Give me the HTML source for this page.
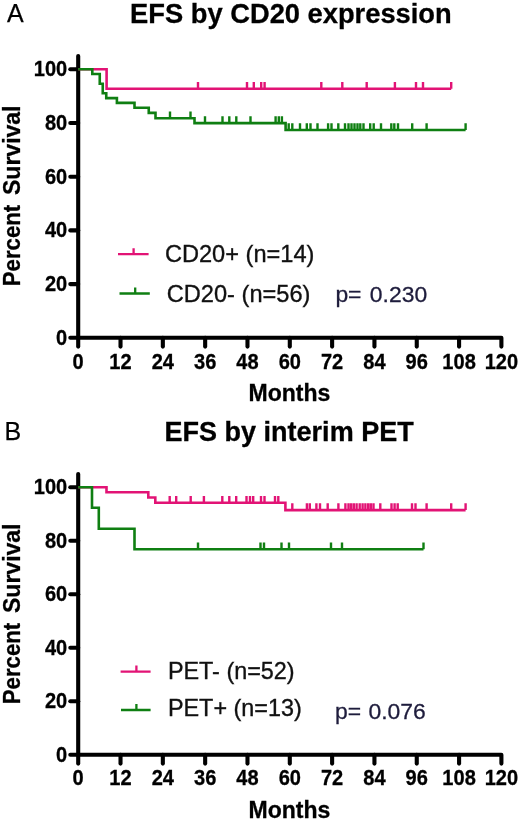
<!DOCTYPE html>
<html><head><meta charset="utf-8"><title>EFS</title>
<style>
html,body{margin:0;padding:0;background:#fff;}
svg{display:block;will-change:transform;filter:blur(0.35px);}
text{font-family:"Liberation Sans",sans-serif;fill:#000;}
.ti{font-weight:bold;stroke:#000;stroke-width:0.3px;}
.lt{font-size:25px;stroke:#000;stroke-width:0.25px;}
.tk{font-weight:bold;font-size:21.8px;stroke:#000;stroke-width:0.3px;}
.ax{font-weight:bold;font-size:23px;stroke:#000;stroke-width:0.3px;}
.lg{fill:#111;stroke:#111;stroke-width:0.35px;}
.pv{font-size:22.9px;fill:#1e1c3c;stroke:#1e1c3c;stroke-width:0.3px;}
</style></head>
<body>
<svg width="520" height="821" viewBox="0 0 520 821">
<rect width="520" height="821" fill="#fff"/>
<path d="M78.2 56 V337.8 H501.40 V346.6" fill="none" stroke="#000" stroke-width="4.1" stroke-linejoin="round" stroke-linecap="round"/>
<line x1="70.3" x2="78.2" y1="337.80" y2="337.80" stroke="#000" stroke-width="4.1" stroke-linecap="round"/>
<text transform="translate(67.2 344.70) scale(0.92 1)" text-anchor="end" class="tk">0</text>
<line x1="70.3" x2="78.2" y1="284.10" y2="284.10" stroke="#000" stroke-width="4.1" stroke-linecap="round"/>
<text transform="translate(67.2 291.00) scale(0.92 1)" text-anchor="end" class="tk">20</text>
<line x1="70.3" x2="78.2" y1="230.40" y2="230.40" stroke="#000" stroke-width="4.1" stroke-linecap="round"/>
<text transform="translate(67.2 237.30) scale(0.92 1)" text-anchor="end" class="tk">40</text>
<line x1="70.3" x2="78.2" y1="176.70" y2="176.70" stroke="#000" stroke-width="4.1" stroke-linecap="round"/>
<text transform="translate(67.2 183.60) scale(0.92 1)" text-anchor="end" class="tk">60</text>
<line x1="70.3" x2="78.2" y1="123.00" y2="123.00" stroke="#000" stroke-width="4.1" stroke-linecap="round"/>
<text transform="translate(67.2 129.90) scale(0.92 1)" text-anchor="end" class="tk">80</text>
<line x1="70.3" x2="78.2" y1="69.30" y2="69.30" stroke="#000" stroke-width="4.1" stroke-linecap="round"/>
<text transform="translate(67.2 76.20) scale(0.92 1)" text-anchor="end" class="tk">100</text>
<line x1="78.20" x2="78.20" y1="337.8" y2="346.6" stroke="#000" stroke-width="4.1" stroke-linecap="round"/>
<text transform="translate(78.20 368.70) scale(0.92 1)" text-anchor="middle" class="tk">0</text>
<line x1="120.52" x2="120.52" y1="337.8" y2="346.6" stroke="#000" stroke-width="4.1" stroke-linecap="round"/>
<text transform="translate(120.52 368.70) scale(0.92 1)" text-anchor="middle" class="tk">12</text>
<line x1="162.84" x2="162.84" y1="337.8" y2="346.6" stroke="#000" stroke-width="4.1" stroke-linecap="round"/>
<text transform="translate(162.84 368.70) scale(0.92 1)" text-anchor="middle" class="tk">24</text>
<line x1="205.16" x2="205.16" y1="337.8" y2="346.6" stroke="#000" stroke-width="4.1" stroke-linecap="round"/>
<text transform="translate(205.16 368.70) scale(0.92 1)" text-anchor="middle" class="tk">36</text>
<line x1="247.48" x2="247.48" y1="337.8" y2="346.6" stroke="#000" stroke-width="4.1" stroke-linecap="round"/>
<text transform="translate(247.48 368.70) scale(0.92 1)" text-anchor="middle" class="tk">48</text>
<line x1="289.80" x2="289.80" y1="337.8" y2="346.6" stroke="#000" stroke-width="4.1" stroke-linecap="round"/>
<text transform="translate(289.80 368.70) scale(0.92 1)" text-anchor="middle" class="tk">60</text>
<line x1="332.12" x2="332.12" y1="337.8" y2="346.6" stroke="#000" stroke-width="4.1" stroke-linecap="round"/>
<text transform="translate(332.12 368.70) scale(0.92 1)" text-anchor="middle" class="tk">72</text>
<line x1="374.44" x2="374.44" y1="337.8" y2="346.6" stroke="#000" stroke-width="4.1" stroke-linecap="round"/>
<text transform="translate(374.44 368.70) scale(0.92 1)" text-anchor="middle" class="tk">84</text>
<line x1="416.76" x2="416.76" y1="337.8" y2="346.6" stroke="#000" stroke-width="4.1" stroke-linecap="round"/>
<text transform="translate(416.76 368.70) scale(0.92 1)" text-anchor="middle" class="tk">96</text>
<line x1="459.08" x2="459.08" y1="337.8" y2="346.6" stroke="#000" stroke-width="4.1" stroke-linecap="round"/>
<text transform="translate(459.08 368.70) scale(0.92 1)" text-anchor="middle" class="tk">108</text>
<text transform="translate(501.40 368.70) scale(0.92 1)" text-anchor="middle" class="tk">120</text>
<text x="130.1" y="22.6" class="ti" style="font-size:27.3px">EFS by CD20 expression</text>
<text x="6.9" y="21.6" class="lt">A</text>
<text x="289.5" y="400.5" text-anchor="middle" class="ax">Months</text>
<text transform="translate(19.5 286.2) rotate(-90)" text-anchor="start" textLength="81.4" lengthAdjust="spacingAndGlyphs" class="ax">Percent</text>
<text transform="translate(19.5 105.5) rotate(-90)" text-anchor="end" class="ax">Survival</text>
<path d="M78.2 69.3 H106.6 V88.7 H451.2" fill="none" stroke="#E21375" stroke-width="2.6" stroke-linejoin="miter"/>
<path d="M198 88.7 v-6.8 M247 88.7 v-6.8 M253.8 88.7 v-6.8 M261.2 88.7 v-6.8 M264.6 88.7 v-6.8 M321.3 88.7 v-6.8 M342.3 88.7 v-6.8 M366.7 88.7 v-6.8 M394.9 88.7 v-6.8 M416 88.7 v-6.8 M423 88.7 v-6.8 M451.2 88.7 v-6.8" fill="none" stroke="#E21375" stroke-width="2.4"/>
<path d="M78.2 69.3 H92.3 V74.0 H99.75 V83.7 H102.75 V93.3 H106.25 V98.1 H116.9 V102.9 H134.5 V107.7 H148.75 V112.9 H155.5 V118.2 H194.5 V123.1 H285.6 V130.0 H465.6" fill="none" stroke="#0F7F12" stroke-width="2.6" stroke-linejoin="miter"/>
<path d="M170 118.2 v-6.8 M190.5 118.2 v-6.8 M205 123.1 v-6.8 M222.5 123.1 v-6.8 M229.3 123.1 v-6.8 M236.3 123.1 v-6.8 M250.5 123.1 v-6.8 M275.6 123.1 v-6.8 M278.8 123.1 v-6.8 M281.9 123.1 v-6.8 M288.7 130.0 v-6.8 M292.3 130.0 v-6.8 M300 130.0 v-6.8 M306.8 130.0 v-6.8 M310.5 130.0 v-6.8 M317.5 130.0 v-6.8 M328.1 130.0 v-6.8 M331.5 130.0 v-6.8 M338.3 130.0 v-6.8 M345 130.0 v-6.8 M348.5 130.0 v-6.8 M351.5 130.0 v-6.8 M354.5 130.0 v-6.8 M357.5 130.0 v-6.8 M360.3 130.0 v-6.8 M363.5 130.0 v-6.8 M370.2 130.0 v-6.8 M373.7 130.0 v-6.8 M381 130.0 v-6.8 M391.3 130.0 v-6.8 M394.3 130.0 v-6.8 M398 130.0 v-6.8 M412.2 130.0 v-6.8 M426.6 130.0 v-6.8 M465.6 130.0 v-6.8" fill="none" stroke="#0F7F12" stroke-width="2.4"/>
<path d="M118 254.2 H148.6 M133.6 254.2 v-6" fill="none" stroke="#E21375" stroke-width="2.3"/>
<path d="M119.5 293.5 H149.8 M135.2 293.5 v-6" fill="none" stroke="#0F7F12" stroke-width="2.3"/>
<text x="164.9" y="262.4" class="lg" style="font-size:23.6px">CD20+ (n=14)</text>
<text x="166.8" y="301.5" class="lg" style="font-size:23.6px">CD20- (n=56)</text>
<text x="335.4" y="301.9" class="pv" style="word-spacing:2px">p= 0.230</text>
<path d="M78.2 474 V754.8 H501.40 V763.5999999999999" fill="none" stroke="#000" stroke-width="4.1" stroke-linejoin="round" stroke-linecap="round"/>
<line x1="70.3" x2="78.2" y1="754.80" y2="754.80" stroke="#000" stroke-width="4.1" stroke-linecap="round"/>
<text transform="translate(67.2 761.70) scale(0.92 1)" text-anchor="end" class="tk">0</text>
<line x1="70.3" x2="78.2" y1="701.30" y2="701.30" stroke="#000" stroke-width="4.1" stroke-linecap="round"/>
<text transform="translate(67.2 708.20) scale(0.92 1)" text-anchor="end" class="tk">20</text>
<line x1="70.3" x2="78.2" y1="647.80" y2="647.80" stroke="#000" stroke-width="4.1" stroke-linecap="round"/>
<text transform="translate(67.2 654.70) scale(0.92 1)" text-anchor="end" class="tk">40</text>
<line x1="70.3" x2="78.2" y1="594.30" y2="594.30" stroke="#000" stroke-width="4.1" stroke-linecap="round"/>
<text transform="translate(67.2 601.20) scale(0.92 1)" text-anchor="end" class="tk">60</text>
<line x1="70.3" x2="78.2" y1="540.80" y2="540.80" stroke="#000" stroke-width="4.1" stroke-linecap="round"/>
<text transform="translate(67.2 547.70) scale(0.92 1)" text-anchor="end" class="tk">80</text>
<line x1="70.3" x2="78.2" y1="487.30" y2="487.30" stroke="#000" stroke-width="4.1" stroke-linecap="round"/>
<text transform="translate(67.2 494.20) scale(0.92 1)" text-anchor="end" class="tk">100</text>
<line x1="78.20" x2="78.20" y1="754.8" y2="763.5999999999999" stroke="#000" stroke-width="4.1" stroke-linecap="round"/>
<text transform="translate(78.20 785.10) scale(0.92 1)" text-anchor="middle" class="tk">0</text>
<line x1="120.52" x2="120.52" y1="754.8" y2="763.5999999999999" stroke="#000" stroke-width="4.1" stroke-linecap="round"/>
<text transform="translate(120.52 785.10) scale(0.92 1)" text-anchor="middle" class="tk">12</text>
<line x1="162.84" x2="162.84" y1="754.8" y2="763.5999999999999" stroke="#000" stroke-width="4.1" stroke-linecap="round"/>
<text transform="translate(162.84 785.10) scale(0.92 1)" text-anchor="middle" class="tk">24</text>
<line x1="205.16" x2="205.16" y1="754.8" y2="763.5999999999999" stroke="#000" stroke-width="4.1" stroke-linecap="round"/>
<text transform="translate(205.16 785.10) scale(0.92 1)" text-anchor="middle" class="tk">36</text>
<line x1="247.48" x2="247.48" y1="754.8" y2="763.5999999999999" stroke="#000" stroke-width="4.1" stroke-linecap="round"/>
<text transform="translate(247.48 785.10) scale(0.92 1)" text-anchor="middle" class="tk">48</text>
<line x1="289.80" x2="289.80" y1="754.8" y2="763.5999999999999" stroke="#000" stroke-width="4.1" stroke-linecap="round"/>
<text transform="translate(289.80 785.10) scale(0.92 1)" text-anchor="middle" class="tk">60</text>
<line x1="332.12" x2="332.12" y1="754.8" y2="763.5999999999999" stroke="#000" stroke-width="4.1" stroke-linecap="round"/>
<text transform="translate(332.12 785.10) scale(0.92 1)" text-anchor="middle" class="tk">72</text>
<line x1="374.44" x2="374.44" y1="754.8" y2="763.5999999999999" stroke="#000" stroke-width="4.1" stroke-linecap="round"/>
<text transform="translate(374.44 785.10) scale(0.92 1)" text-anchor="middle" class="tk">84</text>
<line x1="416.76" x2="416.76" y1="754.8" y2="763.5999999999999" stroke="#000" stroke-width="4.1" stroke-linecap="round"/>
<text transform="translate(416.76 785.10) scale(0.92 1)" text-anchor="middle" class="tk">96</text>
<line x1="459.08" x2="459.08" y1="754.8" y2="763.5999999999999" stroke="#000" stroke-width="4.1" stroke-linecap="round"/>
<text transform="translate(459.08 785.10) scale(0.92 1)" text-anchor="middle" class="tk">108</text>
<text transform="translate(501.40 785.10) scale(0.92 1)" text-anchor="middle" class="tk">120</text>
<text x="164.6" y="440.6" class="ti" style="font-size:27px">EFS by interim PET</text>
<text x="4.5" y="439.6" class="lt">B</text>
<text x="289.5" y="817.6" text-anchor="middle" class="ax">Months</text>
<text transform="translate(19.5 704.2) rotate(-90)" text-anchor="start" textLength="81.4" lengthAdjust="spacingAndGlyphs" class="ax">Percent</text>
<text transform="translate(19.5 523.5) rotate(-90)" text-anchor="end" class="ax">Survival</text>
<path d="M78.2 487.3 H106.5 V492.3 H148.3 V497.5 H155.3 V502.8 H285.4 V510.1 H465.6" fill="none" stroke="#E21375" stroke-width="2.6" stroke-linejoin="miter"/>
<path d="M169.7 502.8 v-6.8 M176.2 502.8 v-6.8 M190.7 502.8 v-6.8 M203.9 502.8 v-6.8 M222.3 502.8 v-6.8 M229.3 502.8 v-6.8 M236.2 502.8 v-6.8 M246.5 502.8 v-6.8 M250 502.8 v-6.8 M253.2 502.8 v-6.8 M261 502.8 v-6.8 M264.5 502.8 v-6.8 M275 502.8 v-6.8 M278.3 502.8 v-6.8 M292.3 510.1 v-6.8 M306.9 510.1 v-6.8 M309.8 510.1 v-6.8 M316.4 510.1 v-6.8 M320 510.1 v-6.8 M327.7 510.1 v-6.8 M338.4 510.1 v-6.8 M345.4 510.1 v-6.8 M348.5 510.1 v-6.8 M351.1 510.1 v-6.8 M353.8 510.1 v-6.8 M356.6 510.1 v-6.8 M359.7 510.1 v-6.8 M362.6 510.1 v-6.8 M365.4 510.1 v-6.8 M368.2 510.1 v-6.8 M370.8 510.1 v-6.8 M373.5 510.1 v-6.8 M380.3 510.1 v-6.8 M391.5 510.1 v-6.8 M394.6 510.1 v-6.8 M397.7 510.1 v-6.8 M412 510.1 v-6.8 M415.5 510.1 v-6.8 M426.6 510.1 v-6.8 M451.2 510.1 v-6.8 M465.6 510.1 v-6.8" fill="none" stroke="#E21375" stroke-width="2.4"/>
<path d="M78.2 487.3 H92 V507.8 H98.8 V528.7 H134.5 V549.3 H423.5" fill="none" stroke="#0F7F12" stroke-width="2.6" stroke-linejoin="miter"/>
<path d="M198 549.3 v-6.8 M260.5 549.3 v-6.8 M264 549.3 v-6.8 M281.5 549.3 v-6.8 M289 549.3 v-6.8 M331 549.3 v-6.8 M342 549.3 v-6.8 M423.5 549.3 v-6.8" fill="none" stroke="#0F7F12" stroke-width="2.4"/>
<path d="M120.6 671.6 H150.6 M136.4 671.6 v-6" fill="none" stroke="#E21375" stroke-width="2.3"/>
<path d="M121 710 H150.6 M136.4 710 v-6" fill="none" stroke="#0F7F12" stroke-width="2.3"/>
<text x="167.9" y="678.9" class="lg" style="font-size:23.4px">PET- (n=52)</text>
<text x="167.9" y="716.3" class="lg" style="font-size:23.4px">PET+ (n=13)</text>
<text x="335" y="718.5" class="pv" style="word-spacing:1px">p= 0.076</text>
</svg>
</body></html>
